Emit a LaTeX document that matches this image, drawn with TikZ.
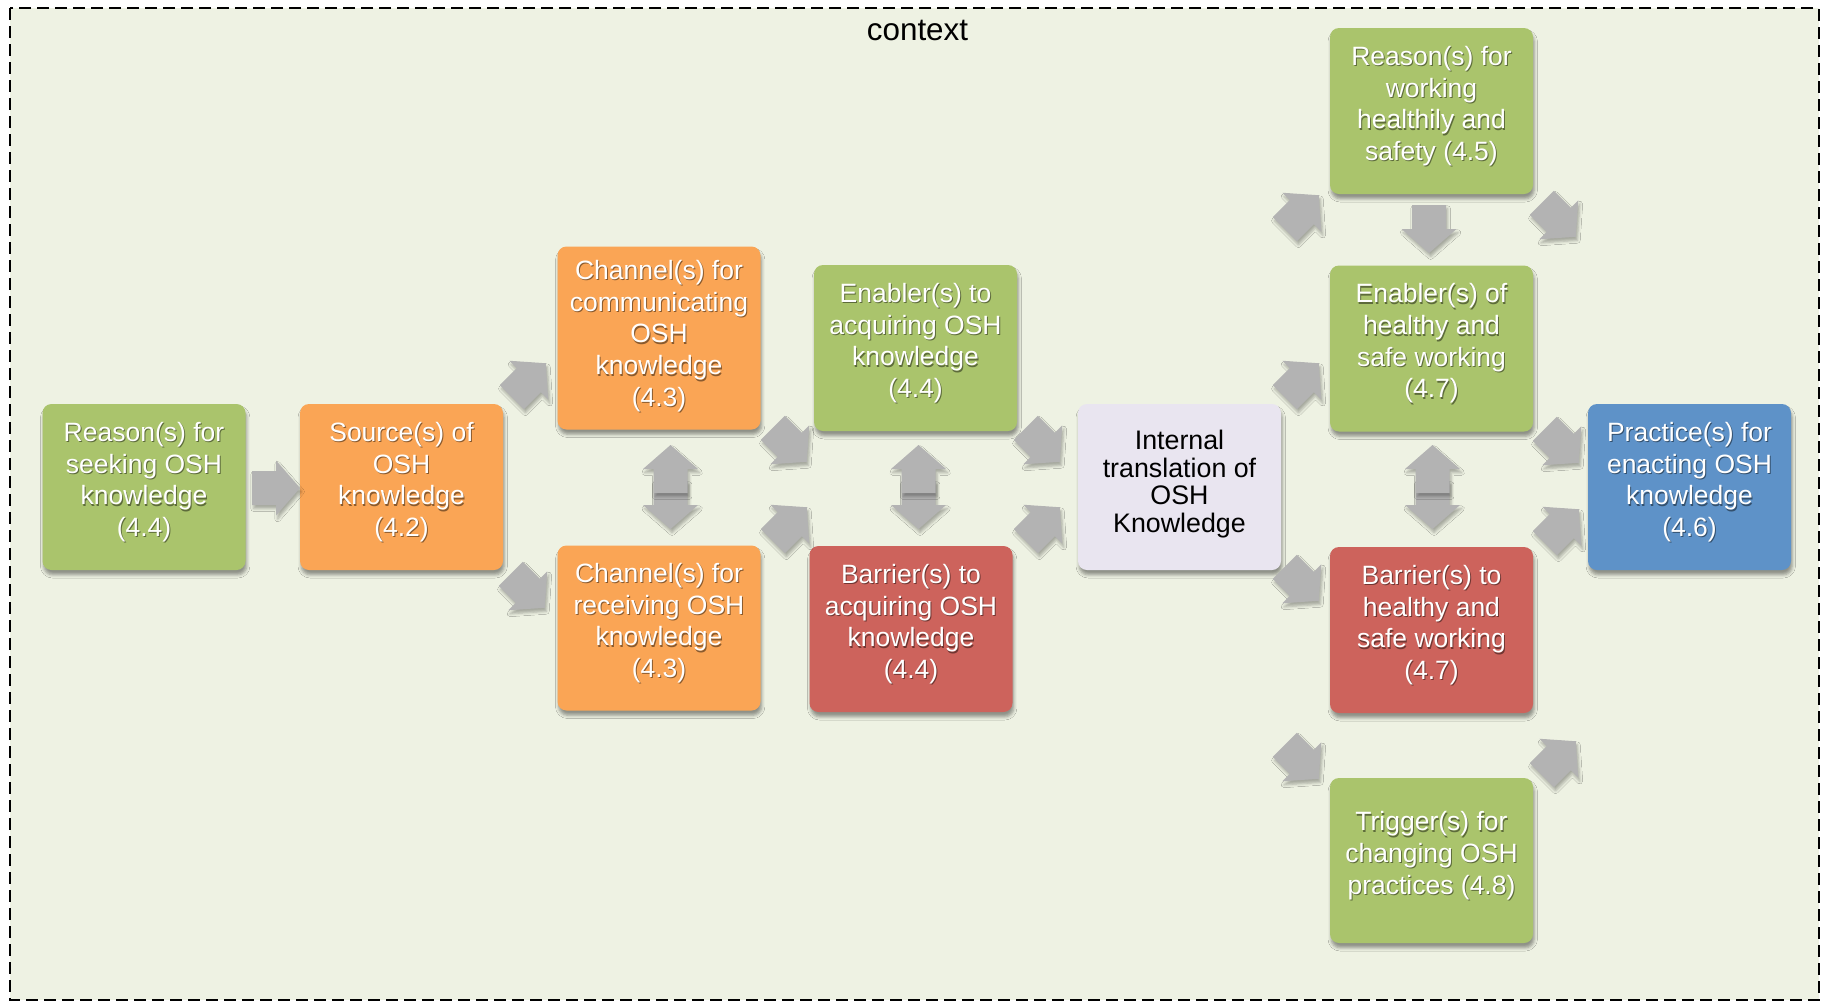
\documentclass[tikz,border=0pt]{standalone}
\usepackage{fontspec}
\setmainfont{Liberation Sans}
\usetikzlibrary{calc,shadows.blur}
\definecolor{bg}{RGB}{238,242,227}
\definecolor{grn}{RGB}{170,196,108}
\definecolor{org}{RGB}{250,165,85}
\definecolor{rd}{RGB}{205,99,92}
\definecolor{blu}{RGB}{94,146,200}
\definecolor{lav}{RGB}{233,229,240}
\definecolor{agray}{RGB}{179,179,179}
\newcommand\boxfont{\fontsize{13.25}{15.85}\selectfont}
\newcommand\intfont{\fontsize{13.4}{13.7}\selectfont}
\tikzset{
  box/.style={rounded corners=4.5pt, minimum width=101.5pt, minimum height=83pt,
    inner sep=0pt, blur shadow={shadow xshift=0.6pt, shadow yshift=-2.4pt,
    shadow blur radius=1.6pt, shadow opacity=40}},
  txt/.style={align=center, inner sep=0pt, text=white, font=\boxfont},
  txtsh/.style={align=center, inner sep=0pt, text=black, text opacity=0.45, font=\boxfont},
  arrowfill/.style={fill=agray, blur shadow={shadow xshift=0.8pt, shadow yshift=-1.8pt,
    shadow blur radius=1.4pt, shadow opacity=30}},
  frame/.style={draw=black, line width=1pt, dash pattern=on 6pt off 3pt, fill=bg}
}
\newcommand\boxlabel[3]{%
  \node[txtsh] (#1s) at ($(#2.center)+(1,-3.5)$) {#3};
  \node[txt] (#1) at ($(#2.center)+(0,-5)$) {#3};
}
\newcommand\blkarrow[4]{%
  \fill[arrowfill, shift={(#2,#3)}, rotate=#4]
    (-24,-17) -- (0,-17) -- (0,-27.5) -- (24,0) -- (0,27.5) -- (0,17) -- (-24,17) -- cycle;
  \coordinate (#1) at (#2,#3);
}
\begin{document}
\begin{tikzpicture}[x=0.5pt, y=-0.5pt]
\useasboundingbox (0,0) rectangle (1821,1003);
\draw[frame] (10,8) rectangle (1818.5,1000);
\node[inner sep=0pt, font=\fontsize{15.7}{18}\selectfont, anchor=base] (ctx) at (917.5,40) {context};

% boxes
\node[box, fill=grn] (A) at (144,487) {};
\node[box, fill=org] (B) at (401.5,487) {};
\node[box, fill=org, minimum height=91.5pt] (C) at (659,338) {};
\node[box, fill=org, minimum height=82.5pt] (D) at (659,628) {};
\node[box, fill=grn] (E) at (915.5,348) {};
\node[box, fill=rd] (F) at (911,629) {};
\node[box, fill=lav] (G) at (1179.5,487) {};
\node[box, fill=grn] (H) at (1431.5,111) {};
\node[box, fill=grn] (I) at (1431.5,348.5) {};
\node[box, fill=rd] (J) at (1431.5,630) {};
\node[box, fill=grn, minimum height=82.5pt] (K) at (1431.5,860.5) {};
\node[box, fill=blu] (L) at (1689.5,487) {};

% arrows
\blkarrow{aAB}{276}{488}{0}
\blkarrow{aBC}{528.8}{380.2}{45}
\blkarrow{aBD}{527.8}{590.8}{-45}
\blkarrow{aCDd}{670.5}{505}{-90}
\blkarrow{aCDu}{670.5}{469}{90}
\blkarrow{aCF}{789.8}{444.8}{-45}
\blkarrow{aDE}{789.8}{524.2}{45}
\blkarrow{aEFd}{918.5}{505}{-90}
\blkarrow{aEFu}{918.5}{469}{90}
\blkarrow{aEG}{1042.8}{444.8}{-45}
\blkarrow{aFG}{1042.8}{524.2}{45}
\blkarrow{aGH}{1301.8}{212.2}{45}
\blkarrow{aGI}{1301.8}{380.2}{45}
\blkarrow{aGJ}{1301.8}{583.8}{-45}
\blkarrow{aGK}{1301.8}{761.8}{-45}
\blkarrow{aHI}{1429}{229}{-90}
\blkarrow{aIJd}{1432.5}{505}{-90}
\blkarrow{aIJu}{1432.5}{469}{90}
\blkarrow{aHL}{1558.8}{219.8}{-45}
\blkarrow{aIL}{1561.8}{445.8}{-45}
\blkarrow{aJL}{1561.8}{526.2}{45}
\blkarrow{aKL}{1558.8}{758.2}{45}

% texts
\boxlabel{At}{A}{Reason(s) for\\seeking OSH\\knowledge\\(4.4)}
\boxlabel{Bt}{B}{Source(s) of\\OSH\\knowledge\\(4.2)}
\node[txtsh] (Cts) at ($(C.center)+(1,-0.5)$) {Channel(s) for\\communicating\\OSH\\knowledge\\(4.3)};
\node[txt] (Ct) at ($(C.center)+(0,-2)$) {Channel(s) for\\communicating\\OSH\\knowledge\\(4.3)};
\boxlabel{Dt}{D}{Channel(s) for\\receiving OSH\\knowledge\\(4.3)}
\boxlabel{Et}{E}{Enabler(s) to\\acquiring OSH\\knowledge\\(4.4)}
\boxlabel{Ft}{F}{Barrier(s) to\\acquiring OSH\\knowledge\\(4.4)}
\node[align=center, inner sep=0pt, font=\intfont] (Gt) at ($(G.center)+(0,-3)$) {Internal\\translation of\\OSH\\Knowledge};
\boxlabel{Ht}{H}{Reason(s) for\\working\\healthily and\\safety (4.5)}
\boxlabel{It}{I}{Enabler(s) of\\healthy and\\safe working\\(4.7)}
\boxlabel{Jt}{J}{Barrier(s) to\\healthy and\\safe working\\(4.7)}
\boxlabel{Kt}{K}{Trigger(s) for\\changing OSH\\practices (4.8)}
\boxlabel{Lt}{L}{Practice(s) for\\enacting OSH\\knowledge\\(4.6)}
\end{tikzpicture}
\end{document}
